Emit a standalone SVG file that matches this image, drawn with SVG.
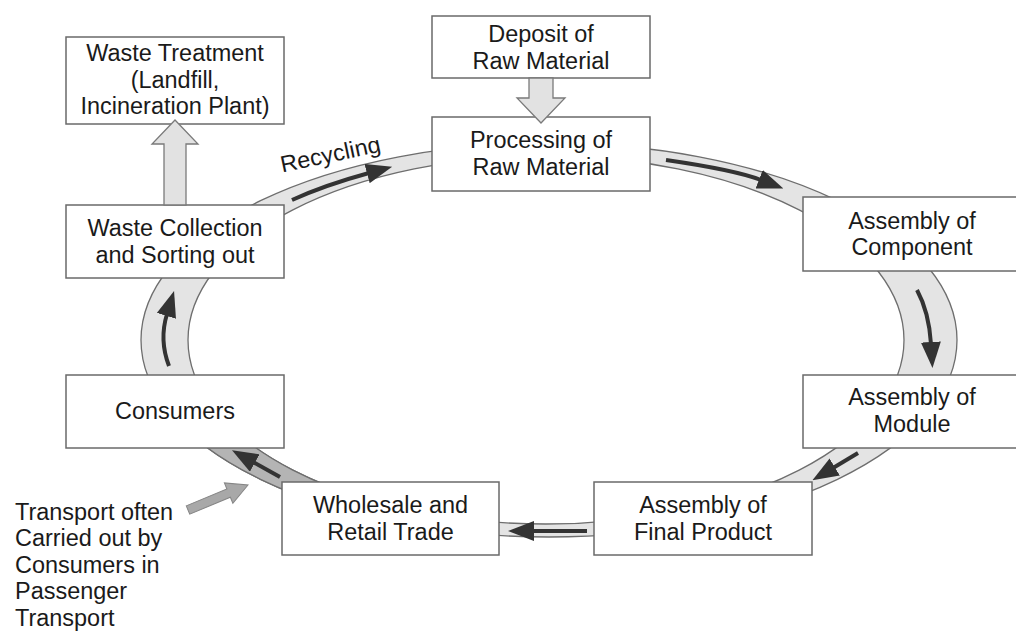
<svg xmlns="http://www.w3.org/2000/svg" width="1016" height="631" viewBox="0 0 1016 631">
<style>
.box{fill:#fff;stroke:#6a6a6a;stroke-width:1.5}
.t{font-family:"Liberation Sans",Arial,sans-serif;font-size:23px;fill:#1a1a1a;text-anchor:middle}
.tl{font-family:"Liberation Sans",Arial,sans-serif;font-size:23px;fill:#1a1a1a;text-anchor:start}
.band{fill:#e4e4e4;stroke:#6e6e6e;stroke-width:1.3;fill-rule:evenodd}
.flow{fill:none;stroke:#333;stroke-width:4;marker-end:url(#head)}
.blk{fill:#e2e2e2;stroke:#7a7a7a;stroke-width:1.3}
</style>
<defs>
<marker id="head" markerUnits="userSpaceOnUse" viewBox="0 0 26 20" refX="2" refY="10" markerWidth="26" markerHeight="20" orient="auto">
<path d="M0,0 L26,10 L0,20 z" fill="#333"/>
</marker>
<clipPath id="darkclip"><rect x="190" y="446" width="140" height="64"/></clipPath>
<path id="ring" d="M141,340 a408,197 0 1,0 816,0 a408,197 0 1,0 -816,0 Z M188,340 a358,184 0 1,0 716,0 a358,184 0 1,0 -716,0 Z"/>
</defs>
<rect width="1016" height="631" fill="#fff"/>
<g id="connectors">
<use href="#ring" class="band"/>
<use href="#ring" class="band" style="fill:#b4b4b4" clip-path="url(#darkclip)"/>
<path class="flow" d="M292,200 Q325,185 369,173"/>
<path class="flow" d="M666,160 Q735,170 761,180"/>
<path class="flow" d="M917,290 Q929,312 931,344"/>
<path class="flow" d="M858,453 L833,468"/>
<path class="flow" d="M587,531 L532,531"/>
<path class="flow" d="M280,477 L253,462"/>
<path class="flow" d="M169,366 Q159,340 167,314"/>
<polygon points="0,-4.5 44,-4.5 44,-11 65,0 44,11 44,4.5 0,4.5" transform="translate(188 510) rotate(-22.6)" fill="#a8a8a8" stroke="#858585" stroke-width="1"/>
</g>
<g id="waste-treatment">
<rect class="box" x="66" y="37" width="218" height="87"/>
<text class="t" transform="translate(175 0) scale(1.02 1)"><tspan x="0" y="61.5">Waste Treatment</tspan><tspan x="0" y="88">(Landfill,</tspan><tspan x="0" y="114.5">Incineration Plant)</tspan></text>
</g>
<g id="deposit">
<rect class="box" x="432" y="16" width="218" height="62"/>
<text class="t" transform="translate(541 0) scale(1.02 1)"><tspan x="0" y="42.5">Deposit of</tspan><tspan x="0" y="69">Raw Material</tspan></text>
</g>
<g id="processing">
<rect class="box" x="432" y="117" width="218" height="74"/>
<text class="t" transform="translate(541 0) scale(1.02 1)"><tspan x="0" y="148.5">Processing of</tspan><tspan x="0" y="175">Raw Material</tspan></text>
</g>
<g id="component">
<rect class="box" x="803" y="197" width="218" height="74"/>
<text class="t" transform="translate(912 0) scale(1.02 1)"><tspan x="0" y="229">Assembly of</tspan><tspan x="0" y="255.5">Component</tspan></text>
</g>
<g id="module">
<rect class="box" x="803" y="375" width="218" height="73"/>
<text class="t" transform="translate(912 0) scale(1.02 1)"><tspan x="0" y="405.5">Assembly of</tspan><tspan x="0" y="432">Module</tspan></text>
</g>
<g id="final-product">
<rect class="box" x="594" y="482" width="218" height="73"/>
<text class="t" transform="translate(703 0) scale(1.02 1)"><tspan x="0" y="513.5">Assembly of</tspan><tspan x="0" y="540">Final Product</tspan></text>
</g>
<g id="wholesale">
<rect class="box" x="282" y="482" width="217" height="73"/>
<text class="t" transform="translate(390.5 0) scale(1.02 1)"><tspan x="0" y="513.5">Wholesale and</tspan><tspan x="0" y="540">Retail Trade</tspan></text>
</g>
<g id="consumers">
<rect class="box" x="66" y="375" width="218" height="73"/>
<text class="t" transform="translate(175 0) scale(1.02 1)" x="0" y="419">Consumers</text>
</g>
<g id="waste-collection">
<rect class="box" x="66" y="205" width="218" height="73"/>
<text class="t" transform="translate(175 0) scale(1.02 1)"><tspan x="0" y="236.5">Waste Collection</tspan><tspan x="0" y="263">and Sorting out</tspan></text>
</g>
<g id="labels">
<text class="t" transform="translate(332 162) rotate(-12) scale(1.02 1)" x="0" y="0">Recycling</text>
<text class="tl" transform="translate(15 0) scale(1.02 1)"><tspan x="0" y="520">Transport often</tspan><tspan x="0" y="546.5">Carried out by</tspan><tspan x="0" y="573">Consumers in</tspan><tspan x="0" y="599.5">Passenger</tspan><tspan x="0" y="626">Transport</tspan></text>
</g>
<g id="block-arrows">
<polygon class="blk" points="529,78 553,78 553,98 565,98 541,123 517,98 529,98"/>
<polygon class="blk" points="164,205 164,144 152,144 175,120 198,144 186,144 186,205"/>
</g>
</svg>
